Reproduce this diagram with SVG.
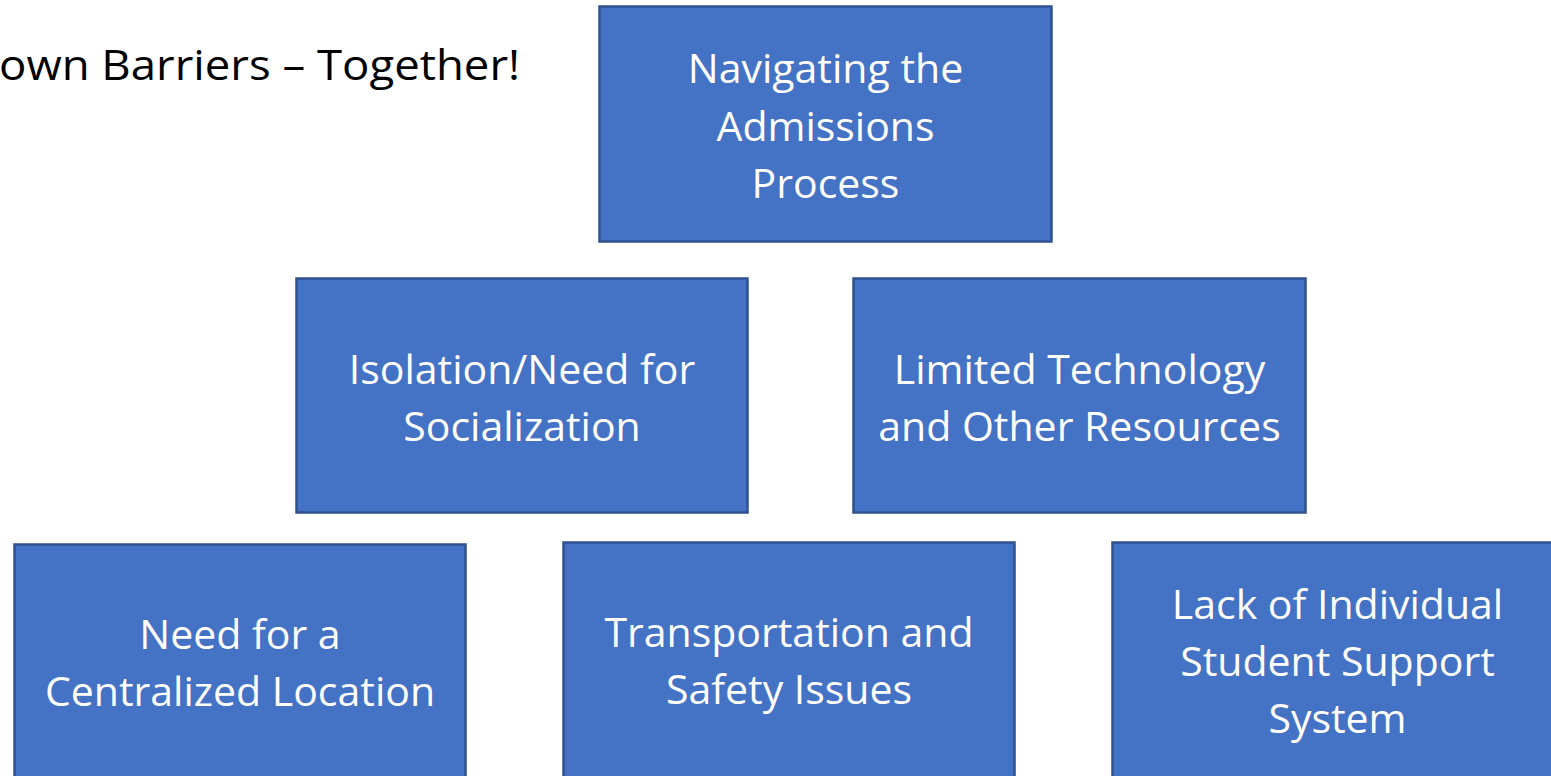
<svg xmlns="http://www.w3.org/2000/svg" width="1551" height="776" viewBox="0 0 1551 776">
<style>
.box{fill:#4472C4;stroke:#2F528F;stroke-width:2.5}
.t{font-family:"Open Sans","Noto Sans",sans-serif;font-size:41px;fill:#FFFFFF;text-anchor:middle}
.title{font-family:"Open Sans","Noto Sans",sans-serif;font-size:42px;fill:#000000}
</style>
<rect width="1551" height="776" fill="#FFFFFF"/>
<text class="title" x="-1" y="80" textLength="521" lengthAdjust="spacingAndGlyphs">own Barriers – Together!</text>
<g id="connectors"></g>
<g id="n1"><rect class="box" x="599.5" y="6.5" width="452" height="235"/>
<text class="t" x="825.5" y="83">Navigating the</text><text class="t" x="825.5" y="141">Admissions</text><text class="t" x="825.5" y="198">Process</text></g>
<g id="n2"><rect class="box" x="296.5" y="278.5" width="451" height="234"/>
<text class="t" x="522" y="384">Isolation/Need for</text><text class="t" x="522" y="441">Socialization</text></g>
<g id="n3"><rect class="box" x="853.5" y="278.5" width="452" height="234"/>
<text class="t" x="1079.5" y="384">Limited Technology</text><text class="t" x="1079.5" y="441">and Other Resources</text></g>
<g id="n4"><rect class="box" x="14.5" y="544.5" width="451" height="250"/>
<text class="t" x="240" y="649">Need for a</text><text class="t" x="240" y="706">Centralized Location</text></g>
<g id="n5"><rect class="box" x="563.5" y="542.5" width="451" height="250"/>
<text class="t" x="789" y="647">Transportation and</text><text class="t" x="789" y="704">Safety Issues</text></g>
<g id="n6"><rect class="box" x="1112.5" y="542.5" width="451" height="250"/>
<text class="t" x="1337.5" y="619">Lack of Individual</text><text class="t" x="1337.5" y="676">Student Support</text><text class="t" x="1337.5" y="733">System</text></g>
</svg>
